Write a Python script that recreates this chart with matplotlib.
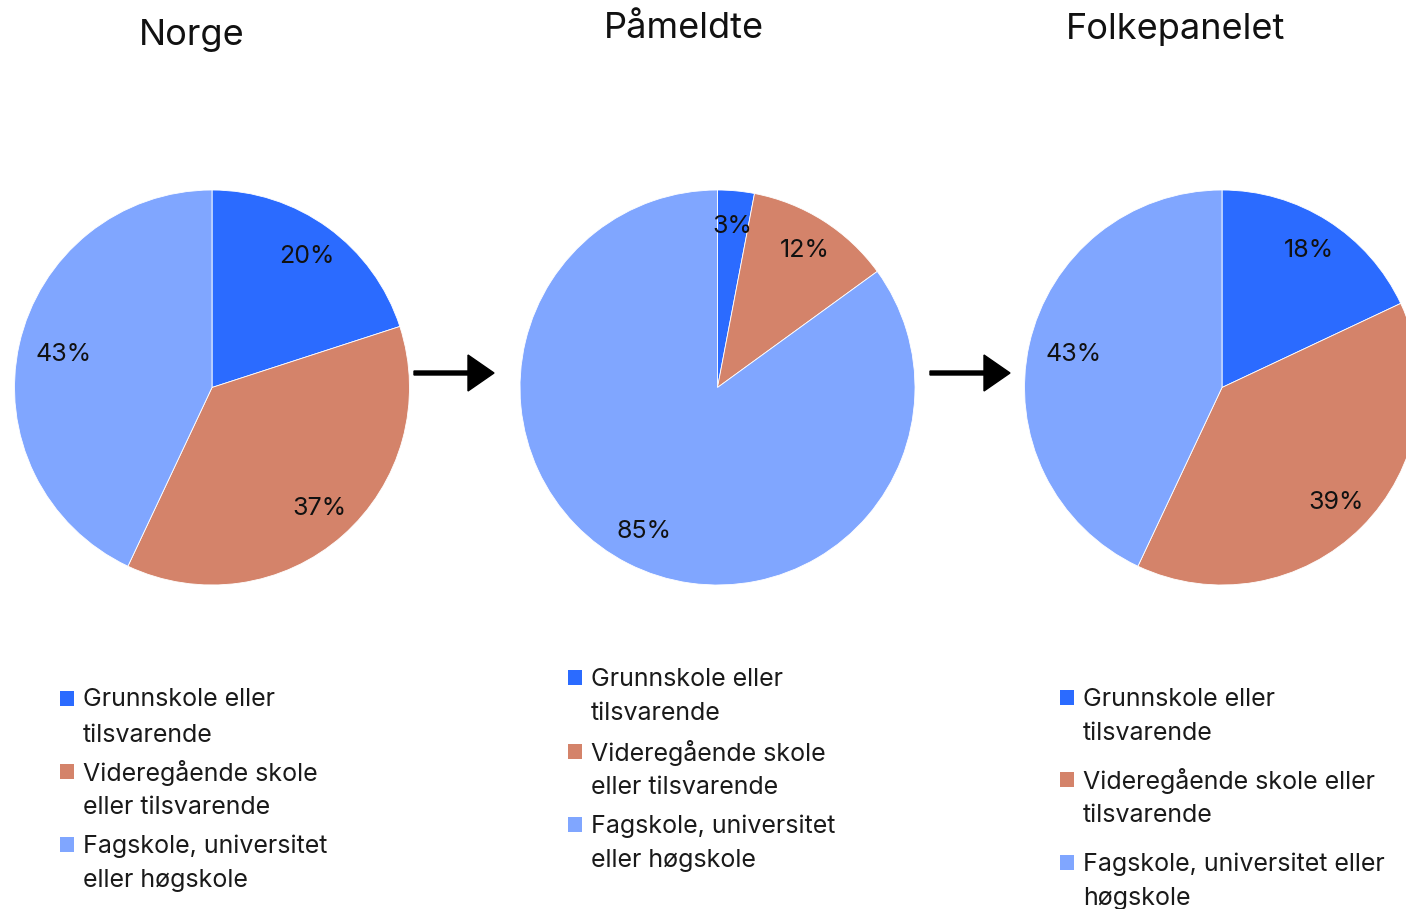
import matplotlib
matplotlib.use("Agg")
import matplotlib.pyplot as plt
from matplotlib.patches import Rectangle, FancyArrow

# Data
titles = ["Norge", "Påmeldte", "Folkepanelet"]
categories = ["Grunnskole eller tilsvarende",
              "Videregående skole eller tilsvarende",
              "Fagskole, universitet eller høgskole"]
norge = [20, 37, 43]
pameldte = [3, 12, 85]
folkepanelet = [18, 39, 43]
shares = [norge, pameldte, folkepanelet]

# legend text as wrapped in each panel
legend_labels = [
    ["Grunnskole eller\ntilsvarende",
     "Videregående skole\neller tilsvarende",
     "Fagskole, universitet\neller høgskole"],
    ["Grunnskole eller\ntilsvarende",
     "Videregående skole\neller tilsvarende",
     "Fagskole, universitet\neller høgskole"],
    ["Grunnskole eller\ntilsvarende",
     "Videregående skole eller\ntilsvarende",
     "Fagskole, universitet eller\nhøgskole"],
]
colors = ["#2B6BFF", "#D4836A", "#80A6FF"]

plt.rcParams['font.family'] = ['Inter', 'DejaVu Sans']
W, H = 1406, 909
fig = plt.figure(figsize=(W / 100, H / 100), dpi=100)

# pixel canvas for titles, arrows and legends
canvas = fig.add_axes([0, 0, 1, 1])
canvas.set_xlim(0, W)
canvas.set_ylim(H, 0)
canvas.axis("off")

centers = [(212, 387.5), (717.5, 387.5), (1222, 387.5)]
radius = 197.5
title_pos = [(192, 36), (684, 29), (1176, 29)]
legend_x = [60, 568, 1060]
legend_y = [[700, 773, 846], [679, 753, 826], [699, 781, 864]]
line_gap = 35

for i, vals in enumerate(shares):
    cx, cy = centers[i]
    ax = fig.add_axes([(cx - radius) / W, 1 - (cy + radius) / H,
                       2 * radius / W, 2 * radius / H])
    wedges, texts, pcts = ax.pie(
        vals, colors=colors, startangle=90, counterclock=False,
        autopct=lambda p: "%.0f%%" % p, pctdistance=0.82,
        wedgeprops=dict(edgecolor="white", linewidth=0.6),
        textprops=dict(fontsize=18, color="#111111"))
    # the big left-hand wedge has its label a bit further in
    for w, t in zip(vals, pcts):
        if w == 43:
            x, y = t.get_position()
            t.set_position((x * 0.94, y * 0.94))
    ax.set_xlim(-1, 1)
    ax.set_ylim(-1, 1)
    ax.set_aspect("equal")
    ax.axis("off")
    for c in ax.get_children():
        c.set_clip_on(False)

    tx, ty = title_pos[i]
    canvas.text(tx, ty, titles[i], fontsize=26, ha="center", va="center",
                color="#111111")

    # legend
    for j, lab in enumerate(legend_labels[i]):
        y0 = legend_y[i][j]
        canvas.add_patch(Rectangle((legend_x[i], y0 - 9), 14, 15,
                                   facecolor=colors[j], edgecolor="none"))
        for k, line in enumerate(lab.split("\n")):
            canvas.text(legend_x[i] + 23, y0 + k * line_gap, line,
                        fontsize=18, ha="left", va="center", color="#1a1a1a")

# arrows between pies
for x0 in [414, 930]:
    canvas.add_patch(FancyArrow(x0, 373, 80, 0, width=4, head_width=36,
                                head_length=26, length_includes_head=True,
                                color="black"))

fig.savefig("out.png", dpi=100)
